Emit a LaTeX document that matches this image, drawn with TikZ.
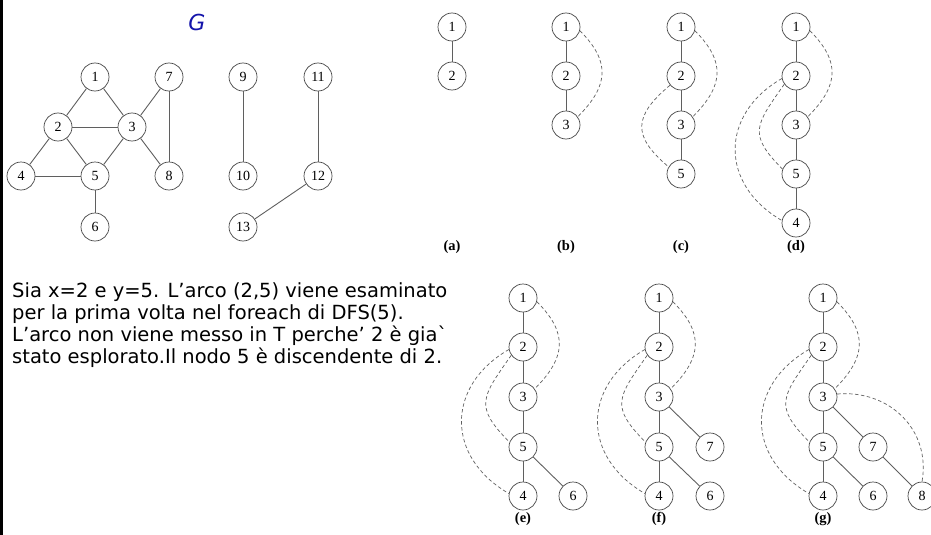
\documentclass[tikz,border=0pt]{standalone}
\usepackage{fontspec}
\newfontfamily\comicfont{DejaVu Sans}
\newfontfamily\numfont{Liberation Serif}
\definecolor{gblue}{RGB}{20,20,170}
\definecolor{edgegray}{RGB}{95,95,95}
\definecolor{circgray}{RGB}{70,70,70}
\begin{document}
\begin{tikzpicture}[x=1pt,y=1pt,
  vtx/.style={circle, draw=circgray, line width=0.7pt, minimum size=28pt, inner sep=0pt, font=\numfont\fontsize{14}{14}\selectfont},
  tedge/.style={draw=edgegray, line width=0.9pt},
  bedge/.style={draw=edgegray, line width=0.7pt, dash pattern=on 3.5pt off 2.5pt},
  subcap/.style={font=\numfont\bfseries\fontsize{14.5}{14.5}\selectfont},
]
\useasboundingbox (0,0) rectangle (931,-535);
\fill[black] (0,0) rectangle (3,-535);

% ---------- Graph G ----------
\node[font=\comicfont\itshape\fontsize{22}{22}\selectfont, text=gblue] (glabel) at (197,-22) {G};
\node[vtx] (g-1) at (95,-77) {1};
\node[vtx] (g-7) at (169,-77) {7};
\node[vtx] (g-9) at (243,-77) {9};
\node[vtx] (g-11) at (318,-77) {11};
\node[vtx] (g-2) at (58,-127) {2};
\node[vtx] (g-3) at (132,-127) {3};
\node[vtx] (g-4) at (21,-176) {4};
\node[vtx] (g-5) at (95,-176) {5};
\node[vtx] (g-8) at (169,-176) {8};
\node[vtx] (g-10) at (243,-176) {10};
\node[vtx] (g-12) at (318,-176) {12};
\node[vtx] (g-6) at (95,-227) {6};
\node[vtx] (g-13) at (243,-227) {13};
\foreach \a/\b in {1/2,1/3,2/3,2/4,2/5,3/5,3/7,3/8,7/8,4/5,5/6,9/10,11/12,12/13}
  \draw[tedge] (g-\a) -- (g-\b);

% ---------- (a) ----------
\node[vtx] (a1) at (452,-27) {1};
\node[vtx] (a2) at (452,-76) {2};
\draw[tedge] (a1) -- (a2);
\node[subcap] (capa) at (452,-247) {(a)};

% ---------- (b) ----------
\node[vtx] (b1) at (566,-27) {1};
\node[vtx] (b2) at (566,-76) {2};
\node[vtx] (b3) at (566,-125) {3};
\draw[tedge] (b1) -- (b2);
\draw[tedge] (b2) -- (b3);
\draw[bedge] (b1.-15) to[out=-45,in=45,looseness=1.3] (b3.35);
\node[subcap] (capb) at (566,-247) {(b)};

% ---------- (c) ----------
\node[vtx] (c1) at (681,-27) {1};
\node[vtx] (c2) at (681,-76) {2};
\node[vtx] (c3) at (681,-125) {3};
\node[vtx] (c5) at (681,-174) {5};
\draw[tedge] (c1) -- (c2);
\draw[tedge] (c2) -- (c3);
\draw[tedge] (c3) -- (c5);
\draw[bedge] (c1.-15) to[out=-45,in=45,looseness=1.3] (c3.35);
\draw[bedge] (c2.220) to[out=220,in=140,looseness=1.5] (c5.150);
\node[subcap] (capc) at (681,-247) {(c)};

% ---------- (d) ----------
\node[vtx] (d1) at (796,-27) {1};
\node[vtx] (d2) at (796,-76) {2};
\node[vtx] (d3) at (796,-125) {3};
\node[vtx] (d5) at (796,-174) {5};
\node[vtx] (d4) at (796,-223) {4};
\draw[tedge] (d1) -- (d2);
\draw[tedge] (d2) -- (d3);
\draw[tedge] (d3) -- (d5);
\draw[tedge] (d5) -- (d4);
\draw[bedge] (d1.-15) to[out=-45,in=45,looseness=1.3] (d3.35);
\draw[bedge] (d2.215) to[out=235,in=135,looseness=1.5] (d5.160);
\draw[bedge] (d2.190) to[out=210,in=150,looseness=1.3] (d4.170);
\node[subcap] (capd) at (796,-247) {(d)};

% ---------- text ----------
\node[anchor=north west, align=left, inner sep=0pt,
      font=\comicfont\fontsize{19.5}{22}\selectfont] (expl) at (12,-282)
 {Sia x=2 e y=5. L’arco (2,5) viene esaminato\\
  per la prima volta nel foreach di DFS(5).\\
  L’arco non viene messo in T perche’ 2 è gia\textasciigrave\\
  stato esplorato.Il nodo 5 è discendente di 2.};

% ---------- (e) ----------
\node[vtx] (e1) at (523,-298) {1};
\node[vtx] (e2) at (523,-347) {2};
\node[vtx] (e3) at (523,-397) {3};
\node[vtx] (e5) at (523,-447) {5};
\node[vtx] (e4) at (523,-496) {4};
\node[vtx] (e6) at (573,-496) {6};
\draw[tedge] (e1) -- (e2);
\draw[tedge] (e2) -- (e3);
\draw[tedge] (e3) -- (e5);
\draw[tedge] (e5) -- (e4);
\draw[tedge] (e5) -- (e6);
\draw[bedge] (e1.-15) to[out=-45,in=45,looseness=1.3] (e3.35);
\draw[bedge] (e2.215) to[out=235,in=135,looseness=1.5] (e5.160);
\draw[bedge] (e2.190) to[out=210,in=150,looseness=1.3] (e4.170);
\node[subcap] (cape) at (523,-519) {(e)};

% ---------- (f) ----------
\node[vtx] (f1) at (659,-298) {1};
\node[vtx] (f2) at (659,-347) {2};
\node[vtx] (f3) at (659,-397) {3};
\node[vtx] (f5) at (659,-447) {5};
\node[vtx] (f4) at (659,-496) {4};
\node[vtx] (f7) at (710,-447) {7};
\node[vtx] (f6) at (710,-496) {6};
\draw[tedge] (f1) -- (f2);
\draw[tedge] (f2) -- (f3);
\draw[tedge] (f3) -- (f5);
\draw[tedge] (f5) -- (f4);
\draw[tedge] (f5) -- (f6);
\draw[tedge] (f3) -- (f7);
\draw[bedge] (f1.-15) to[out=-45,in=45,looseness=1.3] (f3.35);
\draw[bedge] (f2.215) to[out=235,in=135,looseness=1.5] (f5.160);
\draw[bedge] (f2.190) to[out=210,in=150,looseness=1.3] (f4.170);
\node[subcap] (capf) at (659,-519) {(f)};

% ---------- (g) ----------
\node[vtx] (h1) at (823,-298) {1};
\node[vtx] (h2) at (823,-347) {2};
\node[vtx] (h3) at (823,-397) {3};
\node[vtx] (h5) at (823,-447) {5};
\node[vtx] (h4) at (823,-496) {4};
\node[vtx] (h7) at (873,-447) {7};
\node[vtx] (h6) at (873,-496) {6};
\node[vtx] (h8) at (922,-496) {8};
\draw[tedge] (h1) -- (h2);
\draw[tedge] (h2) -- (h3);
\draw[tedge] (h3) -- (h5);
\draw[tedge] (h5) -- (h4);
\draw[tedge] (h5) -- (h6);
\draw[tedge] (h3) -- (h7);
\draw[tedge] (h7) -- (h8);
\draw[bedge] (h1.-15) to[out=-45,in=45,looseness=1.3] (h3.35);
\draw[bedge] (h2.215) to[out=235,in=135,looseness=1.5] (h5.160);
\draw[bedge] (h2.190) to[out=210,in=150,looseness=1.3] (h4.170);
\draw[bedge] (h3.12) to[out=5,in=80,looseness=1.1] (h8.north);
\node[subcap] (capg) at (823,-519) {(g)};
\end{tikzpicture}
\end{document}
